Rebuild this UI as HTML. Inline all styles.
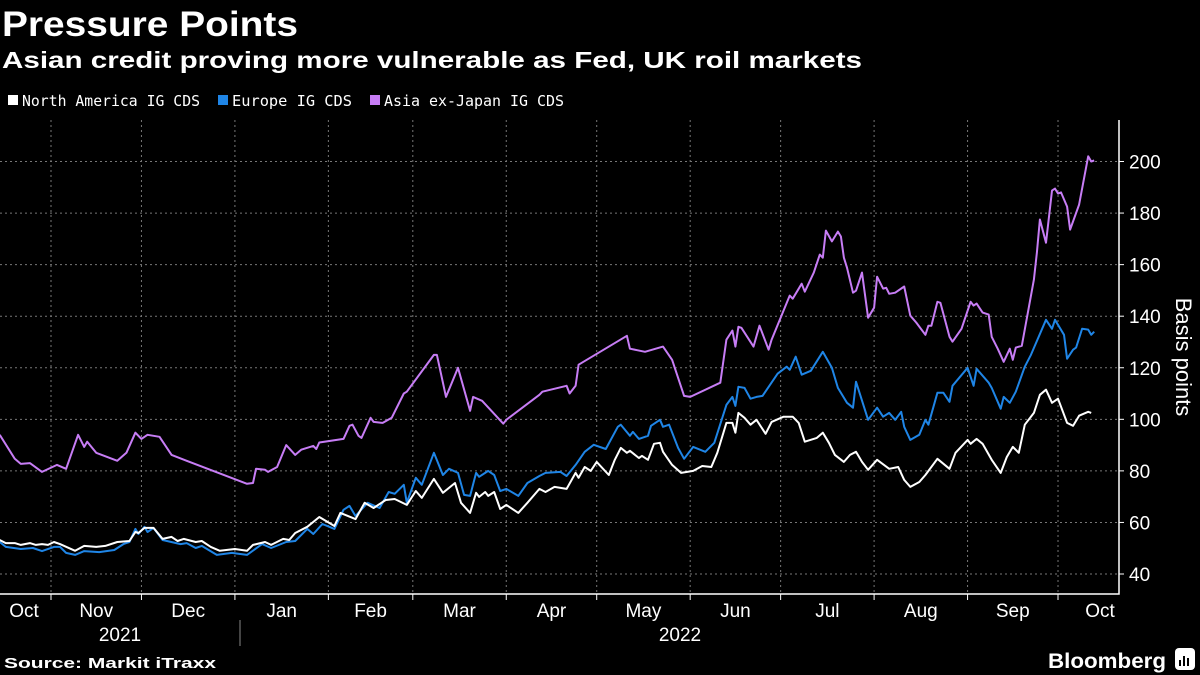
<!DOCTYPE html>
<html><head><meta charset="utf-8"><style>
html,body{margin:0;padding:0;background:#000;}
svg{display:block;}
text{font-family:"Liberation Sans",sans-serif;fill:#fff;}
.nar{font-family:"Liberation Sans Narrow","Liberation Sans",sans-serif;}
.mono{font-family:"DejaVu Sans Mono","Liberation Mono",monospace;}
</style></head><body>
<svg id="chart" width="1200" height="675" viewBox="0 0 1200 675">
<rect width="1200" height="675" fill="#000"/>
<text x="2" y="36" font-size="35" font-weight="bold" textLength="296" lengthAdjust="spacingAndGlyphs">Pressure Points</text>
<text x="2" y="68" font-size="23" font-weight="bold" textLength="860" lengthAdjust="spacingAndGlyphs">Asian credit proving more vulnerable as Fed, UK roil markets</text>
<g>
 <g><rect x="8" y="95" width="10" height="10" fill="#fff"/><text class="mono" x="22" y="106" font-size="15" textLength="178" lengthAdjust="spacingAndGlyphs">North America IG CDS</text></g>
 <g><rect x="218" y="95" width="10" height="10" fill="#1f85e6"/><text class="mono" x="232" y="106" font-size="15" textLength="120" lengthAdjust="spacingAndGlyphs">Europe IG CDS</text></g>
 <g><rect x="370" y="95" width="10" height="10" fill="#c77df5"/><text class="mono" x="384" y="106" font-size="15" textLength="180" lengthAdjust="spacingAndGlyphs">Asia ex-Japan IG CDS</text></g>
</g>
<g id="grid"></g>
<g id="series"></g>
<g id="axes"></g>
<text class="nar" transform="translate(1176,357) rotate(90)" font-size="22" text-anchor="middle">Basis points</text>
<line x1="240" y1="620" x2="240" y2="646" stroke="#888" stroke-width="1"/>
<text class="nar" x="120" y="641" font-size="19" text-anchor="middle">2021</text>
<text class="nar" x="680" y="641" font-size="19" text-anchor="middle">2022</text>
<text x="4" y="668" font-size="15" font-weight="bold" textLength="212" lengthAdjust="spacingAndGlyphs">Source: Markit iTraxx</text>
<text x="1048" y="668" font-size="21" font-weight="bold" textLength="118" lengthAdjust="spacingAndGlyphs">Bloomberg</text>
<g><rect x="1175" y="648" width="20" height="22" rx="4" fill="#fff"/><rect x="1179" y="660" width="2" height="6" fill="#000"/><rect x="1183" y="656" width="2" height="10" fill="#000"/><rect x="1187" y="658" width="2" height="8" fill="#000"/></g>
</svg>
<script>
// days since 2021-10-01
const naDays=[14,16,19,21,24,26,28,30,32,34,39,42,46,49,53,57,59,60,62,65,68,71,73,75,79,81,84,87,92,96,98,102,104,108,110,112,116,120,125,127,132,135,138,142,145,149,152,154,158,161,165,167,170,172,173,175,176,178,180,182,186,189,
193,195,198,202,205,206,208,210,212,216,218,220,222,223,226,227,229,231,233,234,237,240,244,247,250,252,255,257,258,259,261,263,265,268,270,274,277,279,281,285,287,289,291,294,296,298,300,302,305,309,312,314,316,319,321,325,329,331,335,336,338,340,343,346,348,350,352,354,357,359,361,363,365,368,370,372,375,376];
const naValues=[53.2,52,52,51.3,52,51.3,51.6,51.3,52.4,51.6,49,50.9,50.5,50.9,52.4,52.8,56.3,55.9,57.9,57.9,53.6,54.4,52.8,53.6,52.4,52.8,50.5,49,49.7,49,51.3,52.4,51.3,53.6,53.2,55.9,58.3,62.1,58.6,63.7,61.3,67.6,65.6,68.7,69.1,66.8,72.2,69.5,76.9,71.5,75.3,67.6,63.7,71.5,69.9,71.8,70.3,71.8,65.2,66.8,63.7,67.6,
73,71.8,73.8,73,79.2,77.3,81.5,80,83.5,78.4,84.3,88.9,87,87.8,85,85.8,84.3,90.5,90.9,87.4,82.3,79.2,80,81.9,81.5,87,98.6,98.6,94.8,102.5,100.6,97.9,99.8,94.4,99,101,101,98.6,91.3,92.8,94.8,90.9,86.2,83.5,86.2,87.4,83.5,80.4,84.3,80.8,81.5,76.5,73.8,75.7,78.4,84.7,80.8,87,92,90.5,92.4,90.5,84.3,79.2,85.4,89.3,87,97.9,102.5,109.5,111.5,106.4,108,98.6,97.5,101.4,102.9,102.5];
const euDays=[14,16,21,25,28,32,34,36,39,42,47,52,55,57,59,60,62,63,65,68,74,76,79,81,86,91,96,101,104,109,112,116,118,121,125,128,130,132,136,140,143,145,148,149,152,154,158,161,163,166,168,170,172,173,176,178,180,182,186,189,
193,195,200,202,205,208,211,215,219,220,223,224,226,229,230,233,234,236,239,241,244,248,251,255,257,258,259,261,263,265,267,272,275,276,278,280,283,287,290,292,295,297,298,302,305,307,309,311,313,314,316,319,321,322,325,327,329,330,335,337,338,342,343,346,347,349,351,354,356,361,363,364,367,368,370,371,373,375,376,377];
const euValues=[52.4,50.5,49.7,50.1,48.9,50.5,50.5,48.2,47.4,48.9,48.5,49.3,51.6,52.4,57.5,55.5,58.3,56.3,57.9,53.2,51.6,52,50.1,50.9,47.4,48.2,47.4,51.6,50.1,52.4,52.8,57.5,55.5,59.4,57.5,64.9,66.4,62.5,67.6,65.6,71.8,71.1,74.6,67.6,77.3,74.6,87,78.4,80.8,79.2,70.7,70.3,79.2,77.7,80,78.4,72.2,73,70.3,75.3,
78,79.2,79.6,78,82.3,87.4,90.1,88.5,97.1,97.9,93.6,95.1,92.4,93.6,97.5,99.8,97.1,97.9,88.9,84.7,89.3,87.4,90.9,105.6,108.7,105.2,112.6,112.2,108,108.7,109.1,117.7,120.4,119.2,124.3,117.3,118.8,126.2,120,112.2,106.4,104.5,114.6,99.8,104.5,101,102.5,99.8,102.9,97.1,92,94,99.8,97.9,110.3,110.3,106.8,113,120,113,119.6,114.2,112.2,104.1,108.7,106.4,110.7,120.4,125,138.6,135.1,138.6,132.8,123.5,127,127.8,135.1,134.8,132.8,134];
const asiaDays=[14,19,21,24,28,33,36,40,42,43,46,53,56,59,61,63,67,71,76,96,98,99,102,103,106,109,112,114,118,119,120,128,130,131,133,134,137,138,141,144,148,149,158,159,162,166,170,171,174,181,182,
193,194,202,203,205,206,222,223,228,234,237,241,243,253,255,257,258,259,260,264,266,269,270,276,277,280,281,284,286,287,288,290,292,293,294,295,297,298,300,302,304,305,307,308,309,311,314,316,318,321,322,323,325,326,329,330,333,336,337,338,340,342,343,345,347,349,350,351,353,357,358,359,361,363,364,365,366,368,369,372,375,376,377];
const asiaValues=[94,84.7,82.7,83,79.6,82.3,80.8,94,89.3,91.3,87,83.9,87,94.8,92.4,94,93.2,86.2,83.9,75,75.3,80.8,80.4,79.6,81.5,90,86.2,88.2,89.7,88.5,91,92.4,97.5,97.9,93.6,92.8,100.6,99,98.6,100.6,110,110.7,125,125,108.7,120,103.3,108.7,107.2,98.3,99.8,
109.5,110.7,113,110,113,121.2,132.4,127.4,126.2,128.2,123.1,109.1,108.7,114.2,130.9,134.4,128.2,135.9,135.5,128.2,136.3,127,130.9,148,146.8,152.6,149.5,156.9,163.9,162.7,173.2,169,172.8,170.9,162.7,158.8,149.1,149.9,156.9,139.4,143.3,155.3,150.7,151,148.7,149.1,151.5,140.2,137.5,132.8,136.3,136.3,145.6,145.2,132,130.1,135.1,145.6,144.1,144.9,141.4,140.6,132,127.4,122.3,127.4,123.1,127.8,128.5,154.2,164.7,177.5,168.5,188.7,189.5,187.6,188,182.5,173.6,183.3,202,200,200.4];
const yTicks=[40,60,80,100,120,140,160,180,200];
const monthLabels=["Oct","Nov","Dec","Jan","Feb","Mar","Apr","May","Jun","Jul","Aug","Sep","Oct"];
const monthStarts=[0,31,61,92,123,151,182,212,243,273,304,335,365,396];

const NS="http://www.w3.org/2000/svg";
const xS=d=>51+(d-31)*3.015;
const yS=v=>574-(v-40)*2.5781;
const PL=0,PR=1119,PT=120,PB=594;
function mk(tag,attrs,parent){const e=document.createElementNS(NS,tag);for(const k in attrs)e.setAttribute(k,attrs[k]);parent.appendChild(e);return e;}
const grid=document.getElementById('grid'),axes=document.getElementById('axes'),ser=document.getElementById('series');
yTicks.forEach(v=>{
 const l=mk('line',{x1:PL,x2:PR,y1:yS(v),y2:yS(v),stroke:'#777','stroke-width':1,'stroke-dasharray':'2,3'},grid);
 
 
 const t=mk('line',{x1:PR,x2:PR+5,y1:yS(v),y2:yS(v),stroke:'#fff','stroke-width':1},axes);
 
 
 const tx=mk('text',{x:PR+10,y:yS(v)+7,'font-size':19,class:'nar'},axes);
 tx.textContent=v;
 
 
});
for(let i=1;i<monthStarts.length-1;i++){
 const x=xS(monthStarts[i]);
 const l=mk('line',{x1:x,x2:x,y1:PT,y2:PB,stroke:'#777','stroke-width':1,'stroke-dasharray':'2,3'},grid);
 
 
 const t=mk('line',{x1:x,x2:x,y1:PB,y2:PB+6,stroke:'#fff','stroke-width':1},axes);
 
 
}
monthLabels.forEach((m,i)=>{
 let x=(xS(monthStarts[i])+xS(monthStarts[i+1]))/2;
 if(i===0)x=24; if(i===monthLabels.length-1)x=1100;
 const tx=mk('text',{x:x,y:617,'font-size':19,'text-anchor':'middle',class:'nar'},axes);
 tx.textContent=m;
 
 
});
const ax=mk('path',{d:`M${PL},${PB}H${PR}V${PT}`,stroke:'#fff','stroke-width':1.5,fill:'none'},axes);


function line(days,vals,color,name){
 const d=days.map((t,i)=>(i?'L':'M')+xS(t).toFixed(1)+','+yS(vals[i]).toFixed(1)).join('');
 const p=mk('path',{d:d,stroke:color,'stroke-width':2,fill:'none','stroke-linejoin':'round'},ser);
 
 
}
line(asiaDays,asiaValues,'#c77df5','asia-ex-japan-ig-cds-line');
line(euDays,euValues,'#1f85e6','europe-ig-cds-line');
line(naDays,naValues,'#ffffff','north-america-ig-cds-line');
</script>
</body></html>
